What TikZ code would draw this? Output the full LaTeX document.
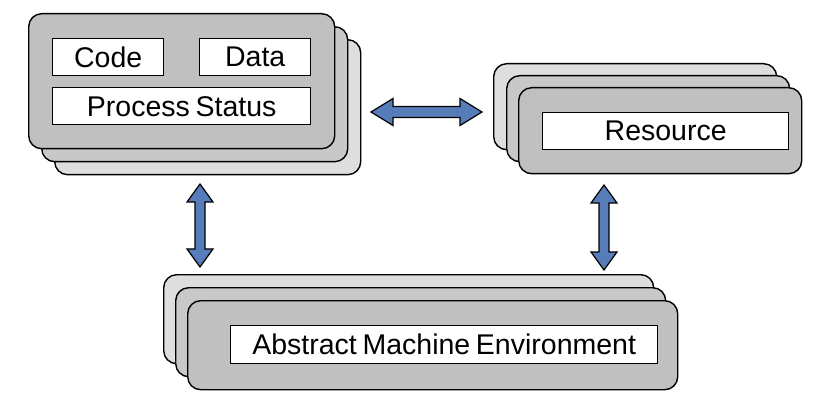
\documentclass[tikz,border=0pt]{standalone}
\usepackage{fontspec}
\setmainfont{Liberation Sans}
\usetikzlibrary{calc}
\definecolor{backgray}{RGB}{222,222,222}
\definecolor{midgray}{RGB}{200,200,200}
\definecolor{frontgray}{RGB}{192,192,192}
\definecolor{arrowblue}{RGB}{86,125,186}
\newcommand{\boxlabelfont}{\fontsize{28.5}{32}\selectfont\spaceskip=0.2em plus 0.1em\relax}
\tikzset{
  layer/.style={draw=black, line width=1.4pt, rounded corners=13pt, anchor=north west, inner sep=0pt},
  backlayer/.style={layer, fill=backgray},
  midlayer/.style={layer, fill=midgray},
  frontlayer/.style={layer, fill=frontgray},
  labelbox/.style={draw=black, line width=1.4pt, fill=white, anchor=north west, inner sep=0pt,
    font=\boxlabelfont},
  blockarrow/.style={draw=black, line width=1.2pt, fill=arrowblue, line join=miter},
}
\begin{document}
\begin{tikzpicture}[x=1pt,y=-1pt]
\useasboundingbox (0,0) rectangle (838,406);
% top-left stack (front at upper left)
\node[backlayer, minimum width=306pt, minimum height=135pt] (pb) at (54,39) {};
\node[midlayer, minimum width=306pt, minimum height=135pt] (pm) at (41,26) {};
\node[frontlayer, minimum width=306pt, minimum height=135pt] (pf) at (28,13) {};
\node[labelbox, minimum width=111pt, minimum height=37pt] (code) at (52,38) {Code};
\node[labelbox, minimum width=111pt, minimum height=37pt] (data) at (199,38) {Data};
\node[labelbox, minimum width=258pt, minimum height=37pt] (status) at (52,87) {Process Status};
% resource stack (front at lower right)
\node[backlayer, minimum width=283pt, minimum height=86pt] (rb) at (493,63) {};
\node[midlayer, minimum width=283pt, minimum height=86pt] (rm) at (506,75) {};
\node[frontlayer, minimum width=283pt, minimum height=86pt] (rf) at (518,87) {};
\node[labelbox, minimum width=246pt, minimum height=37pt] (res) at (542,112) {Resource};
% bottom stack
\node[backlayer, minimum width=490pt, minimum height=89pt] (eb) at (163,274) {};
\node[midlayer, minimum width=490pt, minimum height=89pt] (em) at (175,287) {};
\node[frontlayer, minimum width=490pt, minimum height=89pt] (ef) at (187,300) {};
\node[labelbox, minimum width=427pt, minimum height=38pt] (env) at (230,325) {Abstract Machine Environment};
% arrow end points
\coordinate (hA) at (371,112);
\coordinate (hB) at (482,112);
\coordinate (lA) at (200,184);
\coordinate (lB) at (200,267);
\coordinate (rA) at (604,185);
\coordinate (rB) at (604,270);
% horizontal double arrow
\draw[blockarrow] (hA) -- ($(hA)+(22,-13.5)$) -- ($(hA)+(22,-5.5)$) -- ($(hB)+(-22,-5.5)$)
  -- ($(hB)+(-22,-13.5)$) -- (hB) -- ($(hB)+(-22,13.5)$) -- ($(hB)+(-22,5.5)$)
  -- ($(hA)+(22,5.5)$) -- ($(hA)+(22,13.5)$) -- cycle;
% vertical double arrows
\foreach \a/\b in {lA/lB, rA/rB}{
  \draw[blockarrow] (\a) -- ($(\a)+(13,18)$) -- ($(\a)+(5,18)$) -- ($(\b)+(5,-18)$)
    -- ($(\b)+(13,-18)$) -- (\b) -- ($(\b)+(-13,-18)$) -- ($(\b)+(-5,-18)$)
    -- ($(\a)+(-5,18)$) -- ($(\a)+(-13,18)$) -- cycle;
}
\end{tikzpicture}
\end{document}
